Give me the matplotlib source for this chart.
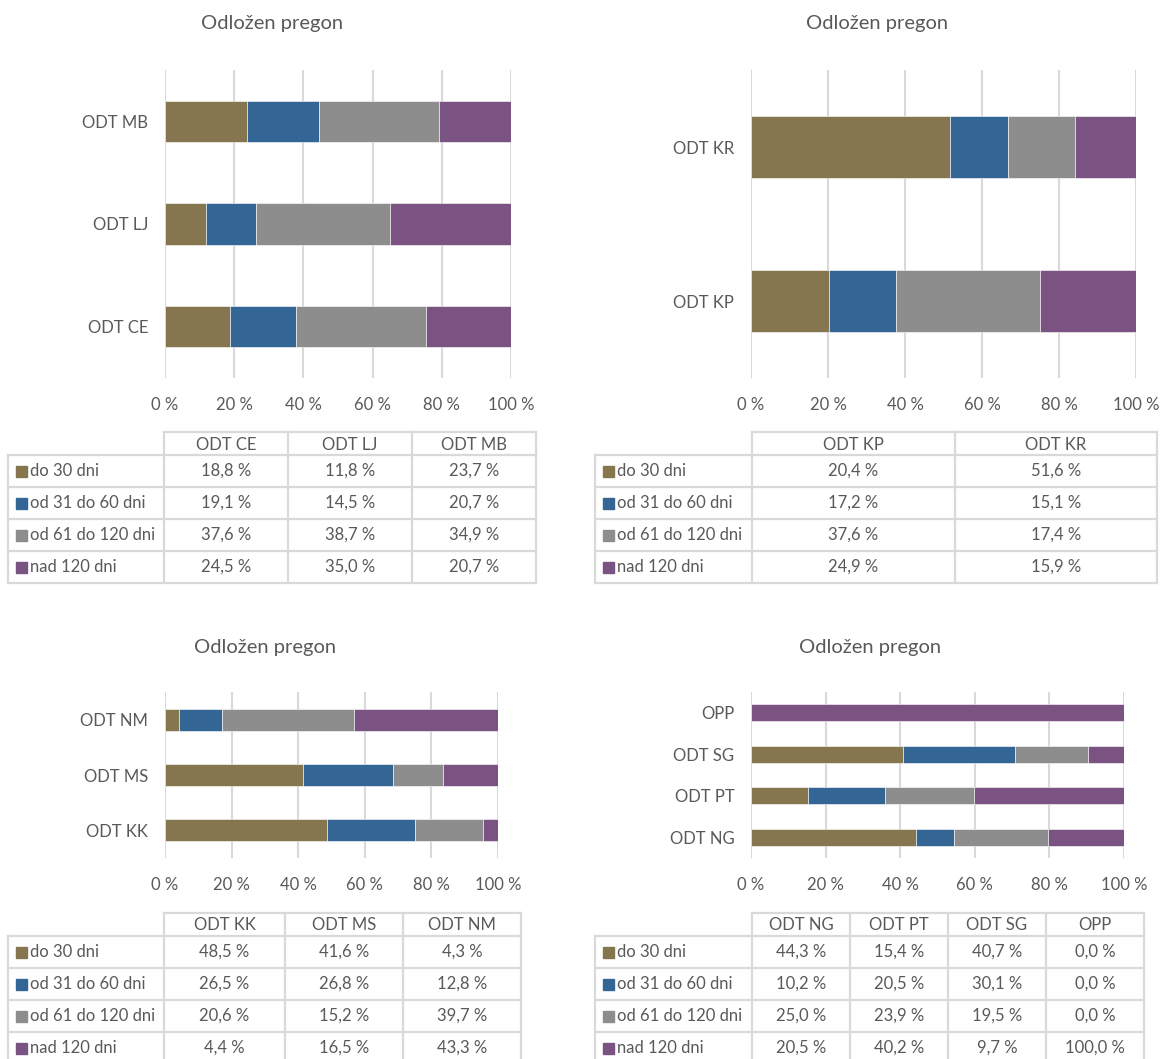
import matplotlib.pyplot as plt
import numpy as np

plt.rcParams['font.family'] = ['Lato', 'DejaVu Sans']

series = ['do 30 dni', 'od 31 do 60 dni', 'od 61 do 120 dni', 'nad 120 dni']
colors = ['#857650', '#336695', '#8D8D8D', '#7B5383']

# panel 1
cats_1 = ['ODT CE', 'ODT LJ', 'ODT MB']
do30_1 = [18.8, 11.8, 23.7]
od31_1 = [19.1, 14.5, 20.7]
od61_1 = [37.6, 38.7, 34.9]
nad_1 = [24.5, 35.0, 20.7]

# panel 2
cats_2 = ['ODT KP', 'ODT KR']
do30_2 = [20.4, 51.6]
od31_2 = [17.2, 15.1]
od61_2 = [37.6, 17.4]
nad_2 = [24.9, 15.9]

# panel 3
cats_3 = ['ODT KK', 'ODT MS', 'ODT NM']
do30_3 = [48.5, 41.6, 4.3]
od31_3 = [26.5, 26.8, 12.8]
od61_3 = [20.6, 15.2, 39.7]
nad_3 = [4.4, 16.5, 43.3]

# panel 4
cats_4 = ['ODT NG', 'ODT PT', 'ODT SG', 'OPP']
do30_4 = [44.3, 15.4, 40.7, 0.0]
od31_4 = [10.2, 20.5, 30.1, 0.0]
od61_4 = [25.0, 23.9, 19.5, 0.0]
nad_4 = [20.5, 40.2, 9.7, 100.0]

title = 'Odložen pregon'
xticks = [0, 20, 40, 60, 80, 100]
xticklabels = ['0 %', '20 %', '40 %', '60 %', '80 %', '100 %']

W, H = 1161, 1059
TXT = '#595959'
GRID = '#D9D9D9'
FS = 12

fig = plt.figure(figsize=(W / 100, H / 100), dpi=100)


def px_axes(x0, y0, x1, y1):
    return fig.add_axes([x0 / W, 1 - y1 / H, (x1 - x0) / W, (y1 - y0) / H])


def bar_panel(box, cats, data, title_xy):
    ax = px_axes(*box)
    arr = np.array(data, dtype=float)
    arr = arr / arr.sum(axis=0) * 100
    y = np.arange(len(cats))
    left = np.zeros(len(cats))
    for vals, c in zip(arr, colors):
        ax.barh(y, vals, left=left, height=0.4, color=c, edgecolor='white',
                linewidth=0.4, zorder=3)
        left += vals
    ax.set_xlim(0, 100)
    ax.set_ylim(-0.5, len(cats) - 0.5)
    ax.set_xticks(xticks)
    ax.set_xticklabels(xticklabels)
    ax.set_yticks(y)
    ax.set_yticklabels(cats)
    ax.tick_params(axis='both', length=0, labelsize=FS, labelcolor=TXT)
    ax.tick_params(axis='x', pad=14)
    ax.tick_params(axis='y', pad=12)
    ax.grid(axis='x', color=GRID, linewidth=1.5, zorder=0)
    for s in ax.spines.values():
        s.set_visible(False)
    fig.text(title_xy[0] / W, 1 - title_xy[1] / H, title, ha='center',
             va='center', fontsize=14.5, color=TXT)


def table(ov, col_edges, y_top, cats, data):
    hh, rh = 23, 32
    lw = 1.6
    x_lab = col_edges[0]
    x0 = col_edges[1]
    x_end = col_edges[-1]
    # header
    y_h1 = y_top + hh
    ov.plot([x0, x_end], [y_top, y_top], color=GRID, lw=lw)
    for xe in col_edges[1:]:
        ov.plot([xe, xe], [y_top, y_h1], color=GRID, lw=lw)
    for i, c in enumerate(cats):
        ov.text((col_edges[i + 1] + col_edges[i + 2]) / 2, y_top + hh / 2 + 1, c,
                ha='center', va='center', fontsize=FS, color=TXT)
    # body
    n = len(series)
    y_bot = y_h1 + n * rh
    for r in range(n + 1):
        yy = y_h1 + r * rh
        ov.plot([x_lab, x_end], [yy, yy], color=GRID, lw=lw)
    for xe in col_edges:
        ov.plot([xe, xe], [y_h1, y_bot], color=GRID, lw=lw)
    for r, (name, vals, c) in enumerate(zip(series, data, colors)):
        yc = y_h1 + r * rh + rh / 2
        ov.add_patch(plt.Rectangle((x_lab + 8, yc - 5.5), 11, 11, color=c))
        ov.text(x_lab + 22, yc, name, ha='left', va='center', fontsize=FS, color=TXT)
        for i, v in enumerate(vals):
            s = f'{v:.1f} %'.replace('.', ',')
            ov.text((col_edges[i + 1] + col_edges[i + 2]) / 2, yc, s,
                    ha='center', va='center', fontsize=FS, color=TXT)


bar_panel((165, 70, 511, 378), cats_1, [do30_1, od31_1, od61_1, nad_1], (272, 23))
bar_panel((751, 70, 1136, 378), cats_2, [do30_2, od31_2, od61_2, nad_2], (877, 23))
bar_panel((165, 692, 498, 858), cats_3, [do30_3, od31_3, od61_3, nad_3], (265, 648))
bar_panel((751, 692, 1124, 858), cats_4, [do30_4, od31_4, od61_4, nad_4], (870, 648))

ov = fig.add_axes([0, 0, 1, 1], zorder=-1)
ov.set_xlim(0, W)
ov.set_ylim(H, 0)
ov.axis('off')

table(ov, [8, 164, 288, 412, 536], 432, cats_1, [do30_1, od31_1, od61_1, nad_1])
table(ov, [595, 752, 955, 1157], 432, cats_2, [do30_2, od31_2, od61_2, nad_2])
table(ov, [8, 164, 285, 403, 521], 913, cats_3, [do30_3, od31_3, od61_3, nad_3])
table(ov, [595, 752, 850, 948, 1046, 1144], 913, cats_4, [do30_4, od31_4, od61_4, nad_4])

fig.savefig('out.png', dpi=100)
